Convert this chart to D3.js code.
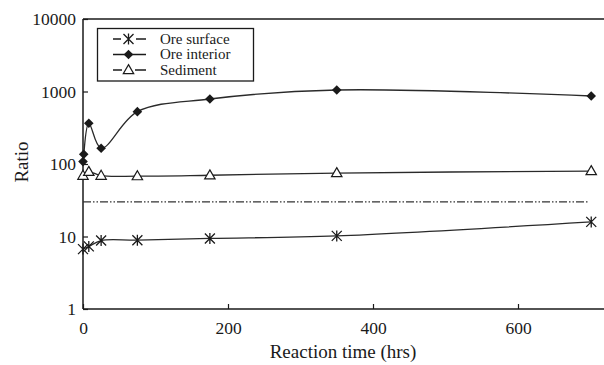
<!DOCTYPE html>
<html><head><meta charset="utf-8">
<script src="https://cdn.jsdelivr.net/npm/d3@7"></script>
<style>body{margin:0;background:#fff}svg{display:block}
text{font-family:"Liberation Serif","Tinos","Times New Roman","DejaVu Serif",serif}</style>
</head><body>
<svg id="c" width="604" height="365"></svg>
<script>
const surfaceT = [0, 8, 25, 75, 175, 350, 701];
const surfaceV = [6.7, 7.3, 8.8, 8.9, 9.4, 10.2, 15.9];
const interiorT = [0, 1, 8, 25, 75, 175, 350, 701];
const interiorV = [108, 136, 364, 165, 527, 788, 1049, 867];
const sedimentT = [0, 8, 25, 75, 175, 350, 701];
const sedimentV = [69, 78, 69, 68, 70, 75, 80];
const refT = [0, 697];
const refV = [30, 30];
const xTicks = [0, 200, 400, 600];
const yTicks = [1, 10, 100, 1000, 10000];
const legendLabels = ["Ore surface", "Ore interior", "Sediment"];

const svg = d3.select("#c");
const L = 83, T = 19, B = 309, R = 604;
const x = d3.scaleLinear().domain([0, 600]).range([L, L + 435]);
const y = d3.scaleLog().domain([1, 10000]).range([B, T]);
const ink = "#1a1a1a";

svg.append("line").attr("x1", L).attr("x2", R).attr("y1", T).attr("y2", T).attr("stroke", ink).attr("stroke-width", 1.5);
svg.append("line").attr("x1", L).attr("x2", R).attr("y1", B).attr("y2", B).attr("stroke", ink).attr("stroke-width", 1.5);
svg.append("line").attr("x1", L).attr("x2", L).attr("y1", T).attr("y2", B).attr("stroke", ink).attr("stroke-width", 1.5);

const xa = svg.append("g").attr("transform", `translate(0,${B})`)
  .call(d3.axisBottom(x).tickValues(xTicks).tickSizeInner(-5).tickSizeOuter(0).tickPadding(13).tickFormat(d3.format("d")));
xa.select(".domain").remove();
xa.attr("font-family", null);
xa.selectAll("line").attr("stroke", ink).attr("stroke-width", 1.2);
xa.selectAll("text").attr("font-size", 17.5).attr("fill", ink);

const ya = svg.append("g").attr("transform", `translate(${L},0)`)
  .call(d3.axisLeft(y).tickValues(yTicks).tickSizeInner(-5).tickSizeOuter(0).tickPadding(7).tickFormat(d3.format("d")));
ya.select(".domain").remove();
ya.attr("font-family", null);
ya.selectAll("line").attr("stroke", ink).attr("stroke-width", 1.2);
ya.selectAll("text").attr("font-size", 17.5).attr("fill", ink);

svg.append("text").attr("x", 343).attr("y", 358).attr("text-anchor", "middle")
  .attr("font-size", 19).attr("fill", ink).text("Reaction time (hrs)");
svg.append("text").attr("transform", "translate(28,162) rotate(-90)").attr("text-anchor", "middle")
  .attr("font-size", 19).attr("fill", ink).text("Ratio");

const line = d3.line().x(d => x(d[0])).y(d => y(d[1])).curve(d3.curveCatmullRom.alpha(0.5));
const zip = (a, b) => a.map((t, i) => [t, b[i]]);

svg.append("path").attr("d", d3.line().x(d => x(d[0])).y(d => y(d[1]))(zip(refT, refV)))
  .attr("fill", "none").attr("stroke", "#333").attr("stroke-width", 1.2).attr("stroke-dasharray", "8,2,1.5,2,1.5,2");

const series = [
  {t: surfaceT, v: surfaceV, m: "star"},
  {t: interiorT, v: interiorV, m: "diamond"},
  {t: sedimentT, v: sedimentV, m: "tri"}
];

function marker(g, type, cx, cy) {
  if (type === "star") {
    const s = 5;
    g.append("path").attr("d", `M${cx-s},${cy-s}L${cx+s},${cy+s}M${cx-s},${cy+s}L${cx+s},${cy-s}M${cx},${cy-s-0.5}L${cx},${cy+s+0.5}`)
      .attr("stroke", ink).attr("stroke-width", 1.3).attr("fill", "none");
  } else if (type === "diamond") {
    const s = 4.8;
    g.append("path").attr("d", `M${cx},${cy-s}L${cx+s},${cy}L${cx},${cy+s}L${cx-s},${cy}Z`).attr("fill", ink);
  } else {
    const w = 5.2, h = 9;
    g.append("path").attr("d", `M${cx},${cy-h*0.6}L${cx+w},${cy+h*0.4}L${cx-w},${cy+h*0.4}Z`)
      .attr("fill", "#fff").attr("stroke", ink).attr("stroke-width", 1.2);
  }
}

series.forEach(s => {
  const pts = zip(s.t, s.v);
  svg.append("path").attr("d", line(pts)).attr("fill", "none").attr("stroke", "#2a2a2a").attr("stroke-width", 1.3);
  const g = svg.append("g");
  pts.forEach(p => marker(g, s.m, x(p[0]), y(p[1])));
});

svg.append("rect").attr("x", 97.5).attr("y", 28.5).attr("width", 156).attr("height", 52.5)
  .attr("fill", "#fff").attr("stroke", ink).attr("stroke-width", 1.3);
const lg = svg.append("g");
const lyPos = [39, 54.5, 70];
series.forEach((s, i) => {
  const yy = lyPos[i];
  lg.append("line").attr("x1", 113).attr("x2", 146).attr("y1", yy).attr("y2", yy).attr("stroke", ink).attr("stroke-width", 1.3);
  if (s.m === "tri") {
    lg.append("rect").attr("x", 122).attr("y", yy - 6).attr("width", 13).attr("height", 10).attr("fill", "#fff");
  } else if (s.m === "star") {
    lg.append("rect").attr("x", 121).attr("y", yy - 6).attr("width", 15).attr("height", 12).attr("fill", "#fff");
  }
  marker(lg, s.m, 128.5, yy);
  lg.append("text").attr("x", 160).attr("y", yy + 4.5).attr("font-size", 15)
    .attr("fill", ink).text(legendLabels[i]);
});
</script>
</body></html>
